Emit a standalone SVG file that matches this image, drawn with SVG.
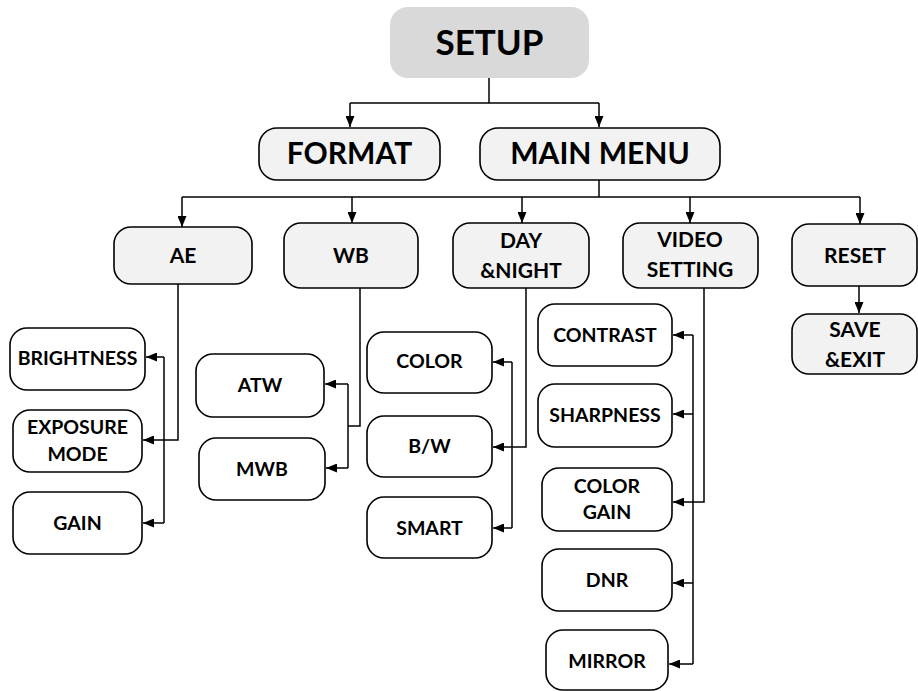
<svg xmlns="http://www.w3.org/2000/svg" width="918" height="691" viewBox="0 0 918 691">
<style>
.box{fill:#f2f2f2;stroke:#000;stroke-width:1.6}
.leaf{fill:#fff;stroke:#000;stroke-width:1.6}
.t{font-family:Lato,"Open Sans",sans-serif;font-weight:bold;fill:#000;text-anchor:middle}
.big{font-size:35px}
.mid{font-size:30px}
.sm{font-size:21px}
.xs{font-size:19.5px}
.c{fill:none;stroke:#000;stroke-width:1.5}
</style>
<defs>
<marker id="a" viewBox="0 0 11 9" refX="11" refY="4.5" markerWidth="11" markerHeight="9" markerUnits="userSpaceOnUse" orient="auto">
<path d="M0,0L11,4.5L0,9z" fill="#000"/>
</marker>
</defs>
<rect width="918" height="691" fill="#fff"/>
<g id="connectors">
<path class="c" d="M489,78V103"/>
<path class="c" d="M350,103H599"/>
<path class="c" d="M350,103V127" marker-end="url(#a)"/>
<path class="c" d="M599,103V127" marker-end="url(#a)"/>
<path class="c" d="M599,180V197"/>
<path class="c" d="M182,197H860"/>
<path class="c" d="M182,197V227" marker-end="url(#a)"/>
<path class="c" d="M352,197V223" marker-end="url(#a)"/>
<path class="c" d="M522,197V223" marker-end="url(#a)"/>
<path class="c" d="M690,197V223" marker-end="url(#a)"/>
<path class="c" d="M860,197V224" marker-end="url(#a)"/>
<path class="c" d="M859,286V313" marker-end="url(#a)"/>
<path class="c" d="M178,284V440H143" marker-end="url(#a)"/>
<path class="c" d="M164,357V523"/>
<path class="c" d="M164,357H146" marker-end="url(#a)"/>
<path class="c" d="M164,523H143" marker-end="url(#a)"/>
<path class="c" d="M360,288V426H348"/>
<path class="c" d="M348,384V468"/>
<path class="c" d="M348,384H325" marker-end="url(#a)"/>
<path class="c" d="M348,468H326" marker-end="url(#a)"/>
<path class="c" d="M526,288V447H493" marker-end="url(#a)"/>
<path class="c" d="M512,362V528"/>
<path class="c" d="M512,362H493" marker-end="url(#a)"/>
<path class="c" d="M512,528H493" marker-end="url(#a)"/>
<path class="c" d="M704,288V502H673" marker-end="url(#a)"/>
<path class="c" d="M693,335V664"/>
<path class="c" d="M693,335H673" marker-end="url(#a)"/>
<path class="c" d="M693,414H673" marker-end="url(#a)"/>
<path class="c" d="M693,583H673" marker-end="url(#a)"/>
<path class="c" d="M693,664H669" marker-end="url(#a)"/>
</g>
<g id="setup"><rect x="390" y="7" width="199" height="71" rx="18" fill="#d9d9d9"/><text class="t big" x="489.5" y="55">SETUP</text></g>
<g id="format"><rect class="box" x="259" y="128" width="181" height="52" rx="18"/><text class="t mid" x="349.5" y="164">FORMAT</text></g>
<g id="mainmenu"><rect class="box" x="480" y="128" width="240" height="52" rx="18"/><text class="t mid" x="600" y="164">MAIN MENU</text></g>
<g id="ae"><rect class="box" x="114" y="227" width="138" height="57" rx="17"/><text class="t sm" x="183" y="263">AE</text></g>
<g id="wb"><rect class="box" x="284" y="223" width="134" height="65" rx="17"/><text class="t sm" x="351" y="263">WB</text></g>
<g id="daynight"><rect class="box" x="453" y="223" width="136" height="65" rx="17"/><text class="t sm" x="521" y="248">DAY</text><text class="t sm" x="521" y="278">&amp;NIGHT</text></g>
<g id="videosetting"><rect class="box" x="623" y="223" width="135" height="65" rx="17"/><text class="t sm" x="690" y="247">VIDEO</text><text class="t sm" x="690" y="277">SETTING</text></g>
<g id="reset"><rect class="box" x="792" y="224" width="125" height="62" rx="17"/><text class="t sm" x="855" y="263">RESET</text></g>
<g id="saveexit"><rect class="box" x="792" y="314" width="125" height="60" rx="17"/><text class="t sm" x="855" y="337">SAVE</text><text class="t sm" x="855" y="367">&amp;EXIT</text></g>
<g id="brightness"><rect class="leaf" x="10" y="328" width="135" height="62" rx="17"/><text class="t xs" x="77.5" y="365">BRIGHTNESS</text></g>
<g id="exposure"><rect class="leaf" x="13" y="410" width="129" height="62" rx="17"/><text class="t xs" x="77.5" y="434">EXPOSURE</text><text class="t xs" x="77.5" y="461">MODE</text></g>
<g id="gain"><rect class="leaf" x="13" y="492" width="129" height="62" rx="17"/><text class="t xs" x="77.5" y="530">GAIN</text></g>
<g id="atw"><rect class="leaf" x="196" y="354" width="128" height="63" rx="17"/><text class="t xs" x="260" y="392">ATW</text></g>
<g id="mwb"><rect class="leaf" x="199" y="438" width="126" height="62" rx="17"/><text class="t xs" x="262" y="476">MWB</text></g>
<g id="color"><rect class="leaf" x="367" y="332" width="125" height="61" rx="17"/><text class="t xs" x="429.5" y="368">COLOR</text></g>
<g id="bw"><rect class="leaf" x="367" y="416" width="125" height="61" rx="17"/><text class="t xs" x="429.5" y="453">B/W</text></g>
<g id="smart"><rect class="leaf" x="367" y="497" width="125" height="61" rx="17"/><text class="t xs" x="429.5" y="535">SMART</text></g>
<g id="contrast"><rect class="leaf" x="538" y="304" width="134" height="62" rx="17"/><text class="t xs" x="605" y="342">CONTRAST</text></g>
<g id="sharpness"><rect class="leaf" x="538" y="384" width="134" height="63" rx="17"/><text class="t xs" x="605" y="422">SHARPNESS</text></g>
<g id="colorgain"><rect class="leaf" x="542" y="468" width="130" height="63" rx="17"/><text class="t xs" x="607" y="493">COLOR</text><text class="t xs" x="607" y="519">GAIN</text></g>
<g id="dnr"><rect class="leaf" x="542" y="549" width="130" height="62" rx="17"/><text class="t xs" x="607" y="587">DNR</text></g>
<g id="mirror"><rect class="leaf" x="546" y="630" width="122" height="60" rx="17"/><text class="t xs" x="607" y="668">MIRROR</text></g>
</svg>
